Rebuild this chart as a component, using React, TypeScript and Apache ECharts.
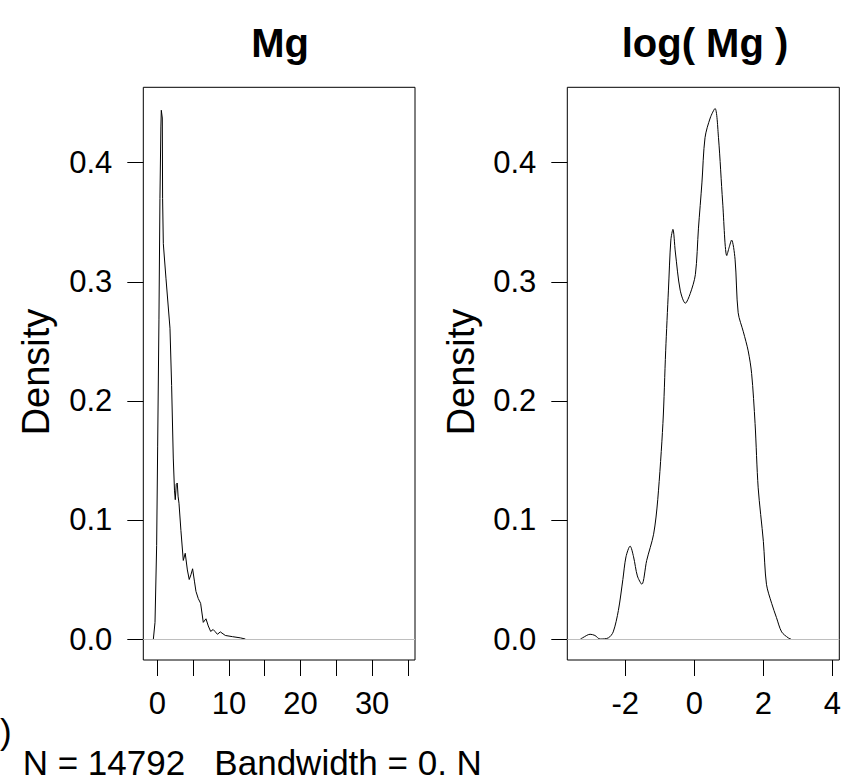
import React, { useEffect, useRef } from "react";
import * as echarts from "echarts";

// Density of Mg (left panel)
const mgX = [-0.55, -0.32, -0.09, 0.05, 0.23, 0.37, 0.5, 0.56, 0.7, 0.74, 0.84, 1.21, 1.77, 2.0, 2.23, 2.4, 2.51, 2.65, 2.79, 2.9, 3.03, 3.3, 3.63, 3.9, 4.2, 4.46, 4.7, 4.93, 5.2, 5.4, 5.72, 6.05, 6.42, 6.8, 7.12, 7.45, 7.8, 8.05, 8.4, 8.8, 9.5, 10.5, 11.6, 12.3];
const mgY = [0, 0.014, 0.0785, 0.162, 0.268, 0.37, 0.43, 0.444, 0.4375, 0.37, 0.332, 0.303, 0.261, 0.213, 0.152, 0.125, 0.117, 0.13, 0.131, 0.12, 0.114, 0.091, 0.066, 0.072, 0.058, 0.05, 0.054, 0.059, 0.048, 0.04, 0.034, 0.03, 0.014, 0.017, 0.011, 0.0064, 0.008, 0.0064, 0.004, 0.006, 0.003, 0.002, 0.001, 0];

// Density of log(Mg) (right panel)
const logX = [-3.3, -3.24, -3.02, -2.88, -2.73, -2.49, -2.35, -2.2, -2.07, -1.98, -1.86, -1.76, -1.65, -1.52, -1.38, -1.18, -1.06, -0.91, -0.83, -0.75, -0.68, -0.62, -0.55, -0.41, -0.26, -0.12, 0.03, 0.12, 0.22, 0.31, 0.46, 0.6, 0.7, 0.82, 0.94, 1.01, 1.08, 1.18, 1.27, 1.42, 1.56, 1.66, 1.76, 1.85, 2.0, 2.09, 2.24, 2.38, 2.53, 2.72, 2.8];
const logY = [0, 0.001, 0.004, 0.003, 0, 0.001, 0.006, 0.024, 0.05, 0.069, 0.078, 0.069, 0.053, 0.046, 0.066, 0.088, 0.117, 0.181, 0.242, 0.293, 0.335, 0.344, 0.325, 0.293, 0.282, 0.29, 0.306, 0.345, 0.383, 0.421, 0.4375, 0.4455, 0.421, 0.367, 0.322, 0.329, 0.335, 0.319, 0.274, 0.258, 0.242, 0.223, 0.181, 0.127, 0.082, 0.046, 0.03, 0.018, 0.006, 0.001, 0];

const yTicks = [0, 0.1, 0.2, 0.3, 0.4];
const mgXTicks = [0, 5, 10, 15, 20, 25, 30, 35];
const mgXLabels = [0, 10, 20, 30];
const logXTicks = [-2, 0, 2, 4];
const titles = ["Mg", "log( Mg )"];
const yLabel = "Density";
const bottomText = "N = 14792   Bandwidth = 0. N";
const edgeText = ")";

const FONT = "'Liberation Sans', Arial, Helvetica, sans-serif";

export default function App() {
  const ref = useRef<HTMLDivElement>(null);
  useEffect(() => {
    if (!ref.current) return;
    const chart = echarts.init(ref.current, undefined, { renderer: "svg" });
    const gridL = { left: 143.3, top: 87.3, width: 271.7, height: 572.7 };
    const gridR = { left: 567.3, top: 87.3, width: 272, height: 572.7 };
    const yMin = -0.0176;
    const yMax = 0.4633;
    const xAxisBase = (gridIndex: number, min: number, max: number, ticks: number[], labels: number[]) => ({
      type: "value",
      gridIndex,
      min,
      max,
      axisLine: { show: false, onZero: false },
      axisTick: { show: true, inside: false, length: 16, customValues: ticks, lineStyle: { color: "#000", width: 1 } },
      axisLabel: { customValues: labels, margin: 28, fontSize: 31, color: "#000", fontFamily: FONT, lineHeight: 31 },
      splitLine: { show: false },
    });
    const yAxisBase = (gridIndex: number) => ({
      type: "value",
      gridIndex,
      min: yMin,
      max: yMax,
      axisLine: { show: false, onZero: false },
      axisTick: { show: true, inside: false, length: 16, customValues: yTicks, lineStyle: { color: "#000", width: 1 } },
      axisLabel: {
        customValues: yTicks,
        margin: 31,
        fontSize: 31,
        color: "#000",
        fontFamily: FONT,
        formatter: (v: number) => v.toFixed(1),
      },
      splitLine: { show: false },
    });
    const zeroLine = {
      silent: true,
      symbol: ["none", "none"],
      label: { show: false },
      lineStyle: { color: "#bebebe", width: 1, type: "solid" },
      data: [{ yAxis: 0 }],
    };
    const gridStyle = { show: true, borderColor: "#000", borderWidth: 1, backgroundColor: "transparent" };
    const textStyle = (size: number, bold = false) => ({
      fontSize: size,
      fontFamily: FONT,
      fontWeight: bold ? "bold" : "normal",
      fill: "#000",
    });
    chart.setOption({
      animation: false,
      backgroundColor: "#fff",
      grid: [
        { ...gridL, ...gridStyle },
        { ...gridR, ...gridStyle },
      ],
      xAxis: [
        xAxisBase(0, -1.955, 35.99, mgXTicks, mgXLabels),
        xAxisBase(1, -3.68, 4.2, logXTicks, logXTicks),
      ],
      yAxis: [yAxisBase(0), yAxisBase(1)],
      series: [
        {
          type: "line",
          xAxisIndex: 0,
          yAxisIndex: 0,
          data: mgX.map((x, i) => [x, mgY[i]]),
          showSymbol: false,
          lineStyle: { color: "#000", width: 1 },
          markLine: zeroLine,
        },
        {
          type: "line",
          xAxisIndex: 1,
          yAxisIndex: 1,
          data: logX.map((x, i) => [x, logY[i]]),
          showSymbol: false,
          smooth: 0.3,
          lineStyle: { color: "#000", width: 1 },
          markLine: zeroLine,
        },
      ],
      graphic: [
        { type: "text", x: 280, y: 43, style: { ...textStyle(40, true), text: titles[0], align: "center", verticalAlign: "middle" } },
        { type: "text", x: 705, y: 43, style: { ...textStyle(40, true), text: titles[1], align: "center", verticalAlign: "middle" } },
        { type: "text", x: 36, y: 372, rotation: Math.PI / 2, style: { ...textStyle(38), text: yLabel, align: "center", verticalAlign: "middle" } },
        { type: "text", x: 461, y: 372, rotation: Math.PI / 2, style: { ...textStyle(38), text: yLabel, align: "center", verticalAlign: "middle" } },
        { type: "text", x: 22.7, y: 762, style: { ...textStyle(35), text: bottomText, align: "left", verticalAlign: "middle", lineHeight: 34 } },
        { type: "text", x: 0, y: 731, style: { ...textStyle(35), text: edgeText, align: "left", verticalAlign: "middle" } },
      ],
    });
    return () => chart.dispose();
  }, []);
  return (
    <div
      ref={ref}
      style={{ position: "fixed", left: 0, top: 0, width: 848, height: 781, background: "#fff" }}
    />
  );
}
